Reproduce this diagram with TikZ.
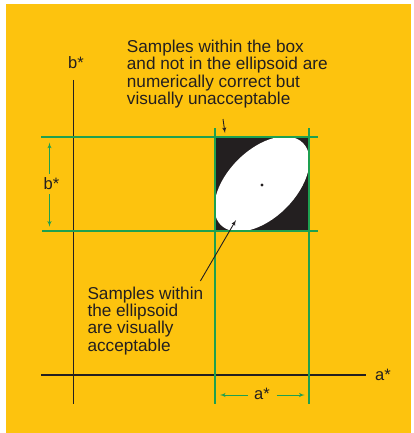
\documentclass[tikz,border=0pt]{standalone}
\usepackage{fontspec}
\setmainfont{Liberation Sans}
\usetikzlibrary{arrows,positioning}
\definecolor{bgyellow}{RGB}{253,195,14}
\definecolor{guidegreen}{RGB}{30,160,80}
\definecolor{inkblack}{RGB}{35,31,32}

\begin{document}
\begin{tikzpicture}[
  x=1pt,y=-1pt,
  axis/.style={inkblack,line width=1.3pt},
  guide/.style={guidegreen,line width=1.2pt},
  dim/.style={guidegreen,line width=0.9pt,-latex'},
  pointer/.style={inkblack,line width=0.9pt,-latex'},
  note/.style={align=left,inner sep=0pt,text=inkblack,font=\fontsize{17.2}{17.3}\selectfont},
  label/.style={text=inkblack,font=\fontsize{16.5}{17}\selectfont}
]
  \useasboundingbox (0,0) rectangle (414,433);
  \fill[bgyellow] (6,4) rectangle (411,433);

  % box and ellipsoid
  \node[fill=inkblack,minimum size=94pt,inner sep=0pt] (box) at (261.9,184) {};
  \fill[white,rotate around={45:(box.center)}] (box.center) ellipse (58pt and 34pt);
  \fill[inkblack] (262,185) circle (1.7pt);

  % axes
  \draw[axis] (73.3,80) -- (73.3,404);
  \draw[axis] (41,375) -- (366,375);
  \node[label] (alab) at (383,375) {a*};
  \node[label] (blab) at (76,63) {b*};

  % green guides
  \draw[guide] (41,137) -- (318,137);
  \draw[guide] (42,231) -- (318,231);
  \draw[guide] (214.9,128) -- (214.9,404);
  \draw[guide] (308.9,128) -- (308.9,404);

  % dimensions
  \node[label,inner xsep=1pt,inner ysep=4pt] (bdim) at (51.5,184) {b*};
  \coordinate (btop) at (49.5,142.7);
  \coordinate (bbot) at (49.5,226.7);
  \draw[dim] (bdim.north -| btop) -- (btop);
  \draw[dim] (bdim.south -| bbot) -- (bbot);
  \node[label,inner xsep=6.5pt] (adim) at (262,394) {a*};
  \coordinate (aleft) at (220,395);
  \coordinate (aright) at (304.7,395);
  \draw[dim] (adim.west |- aleft) -- (aleft);
  \draw[dim] (adim.east |- aright) -- (aright);

  % notes
  \node[note,anchor=north west] (boxnote) at (126.7,40)
    {Samples within the box\\and not in the ellipsoid are\\numerically correct but\\visually unacceptable};
  \node[note,anchor=north west] (ellnote) at (87.3,286.5)
    {Samples within\\the ellipsoid\\are visually\\acceptable};
  \coordinate (topstart) at (223,119);
  \coordinate (topend) at (225,133);
  \coordinate (inside) at (236,220);
  \draw[pointer] (topstart) -- (topend);
  \draw[pointer] ([xshift=-3pt,yshift=5.5pt]ellnote.north east) -- (inside);
\end{tikzpicture}
\end{document}
